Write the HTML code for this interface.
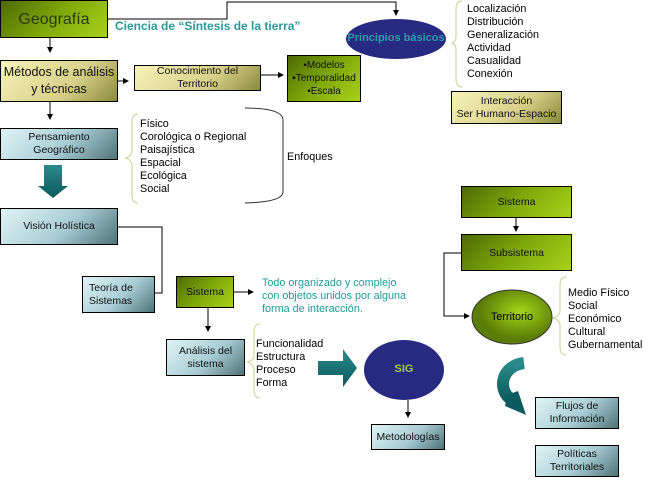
<!DOCTYPE html>
<html><head><meta charset="utf-8"><style>
body{margin:0;width:660px;height:498px;background:#fff;position:relative;overflow:hidden;font-family:"Liberation Sans",sans-serif;}
.b{position:absolute;box-sizing:border-box;border:1px solid #000;display:flex;align-items:center;justify-content:center;text-align:center;color:#111;font-size:10.5px;line-height:13px;}
.g{background:linear-gradient(135deg,#4d6a05,#7fa80a 50%,#a8d21a);}
.y{background:linear-gradient(135deg,#f6f3b8,#d8d08a 60%,#8a8a3a);}
.t{background:linear-gradient(135deg,#dff4f6,#a8ccd4 55%,#4e7478);}
.tx{position:absolute;font-size:10.8px;line-height:13px;color:#000;}
</style></head><body>
<svg width="660" height="498" style="position:absolute;left:0;top:0">
<defs>
<marker id="a" markerWidth="6" markerHeight="6" refX="5" refY="3" orient="auto"><path d="M0,0L6,3L0,6z" fill="#000"/></marker>
<linearGradient id="te" x1="0" x2="0" y1="0" y2="1"><stop offset="0" stop-color="#2a8a8a"/><stop offset="1" stop-color="#0b5a5f"/></linearGradient>
<radialGradient id="gr" cx="0.6" cy="0.4"><stop offset="0" stop-color="#a6d41a"/><stop offset="1" stop-color="#5b7d06"/></radialGradient>
</defs>
<g fill="none" stroke="#000" stroke-width="1">
<path d="M108,19H227V2H396V15" marker-end="url(#a)"/>
<path d="M50,38V52" marker-end="url(#a)"/>
<path d="M118,81H128" marker-end="url(#a)"/>
<path d="M261,75H283" marker-end="url(#a)"/>
<path d="M50,102V119" marker-end="url(#a)"/>
<path d="M118,227H162V293H150" marker-end="url(#a)"/>
<path d="M234,292H253" marker-end="url(#a)"/>
<path d="M208,308V331" marker-end="url(#a)"/>
<path d="M408,400V417" marker-end="url(#a)"/>
<path d="M516,218V231" marker-end="url(#a)"/>
<path d="M461,253H444V316H469" marker-end="url(#a)"/>
</g>
<g fill="none" stroke="#cfd9a0" stroke-width="1.2">
<path d="M462,1Q456,1 456,10V36Q456,42 452,43Q456,44 456,50V78Q456,87 462,87"/>
<path d="M138,114Q132,114 132,122V150Q132,156 126,158Q132,160 132,166V195Q132,203 138,203"/>
<path d="M260,324Q254,324 254,332V355Q254,361 247,362Q254,364 254,370V390Q254,398 260,398"/>
<path d="M566,277Q560,277 560,285V311Q560,316 553,318Q560,320 560,325V346Q560,355 566,355"/>
</g>
<path d="M245,108Q283,108 283,120V192Q283,202 245,203" fill="none" stroke="#333" stroke-width="1"/>
<ellipse cx="396" cy="39" rx="50" ry="20" fill="#262a80"/>
<ellipse cx="404" cy="370" rx="40" ry="30" fill="#262a80"/>
<ellipse cx="512" cy="317" rx="40" ry="27" fill="url(#gr)" stroke="#333"/>
<path d="M44,165H62V186H68L53,198L38,186H44Z" fill="url(#te)"/>
<path d="M318,361H343V349L357,368L343,387V375H318Z" fill="url(#te)"/>
<path d="M524,363C508,365 500,378 504,390C506,396 510,399 514,400" fill="none" stroke="url(#te)" stroke-width="12"/>
<path d="M507,395L518,391L526,415L505,406Z" fill="#0b5a5f"/>
</svg>
<div class="b g" style="left:0;top:0;width:108px;height:38px;font-size:16px;color:#2a3a10">Geografía</div>
<div class="tx" style="left:115px;top:20px;font-size:12px;font-weight:bold;color:#2a9a9a">Ciencia de “Síntesis de la tierra”</div>
<div class="tx" style="left:346px;top:32px;width:100px;text-align:center;font-size:11px;font-weight:bold;color:#2f9aa8">Principios básicos</div>
<div class="tx" style="left:467px;top:3px">Localización<br>Distribución<br>Generalización<br>Actividad<br>Casualidad<br>Conexión</div>
<div class="b y" style="left:451px;top:91px;width:111px;height:33px">Interacción<br>Ser Humano-Espacio</div>
<div class="b y" style="left:0;top:60px;width:118px;height:42px;font-size:12.5px;line-height:17px">Métodos de análisis<br>y técnicas</div>
<div class="b y" style="left:134px;top:65px;width:127px;height:26px">Conocimiento del<br>Territorio</div>
<div class="b g" style="left:287px;top:55px;width:74px;height:47px;font-size:10px">▪Modelos<br>▪Temporalidad<br>▪Escala</div>
<div class="b t" style="left:0;top:128px;width:118px;height:32px">Pensamiento<br>Geográfico</div>
<div class="tx" style="left:140px;top:118px">Físico<br>Corológica o Regional<br>Paisajística<br>Espacial<br>Ecológica<br>Social</div>
<div class="tx" style="left:287px;top:151px">Enfoques</div>
<div class="b t" style="left:0;top:208px;width:118px;height:37px">Visión Holística</div>
<div class="b t" style="left:82px;top:276px;width:73px;height:37px;justify-content:flex-start;text-align:left;padding-left:6px">Teoría de<br>Sistemas</div>
<div class="b g" style="left:176px;top:276px;width:58px;height:32px">Sistema</div>
<div class="tx" style="left:262px;top:277px;color:#1e9a9a">Todo organizado y complejo<br>con objetos unidos por alguna<br>forma de interacción.</div>
<div class="b t" style="left:166px;top:339px;width:79px;height:37px">Análisis del<br>sistema</div>
<div class="tx" style="left:256px;top:338px">Funcionalidad<br>Estructura<br>Proceso<br>Forma</div>
<div class="tx" style="left:364px;top:363px;width:80px;text-align:center;font-weight:bold;font-size:11px;color:#a8c83a">SIG</div>
<div class="b t" style="left:371px;top:424px;width:74px;height:26px">Metodologías</div>
<div class="b g" style="left:461px;top:186px;width:111px;height:32px">Sistema</div>
<div class="b g" style="left:461px;top:234px;width:111px;height:37px;align-items:flex-start;padding-top:12px">Subsistema</div>
<div class="tx" style="left:472px;top:311px;width:80px;text-align:center">Territorio</div>
<div class="tx" style="left:568px;top:287px">Medio Físico<br>Social<br>Económico<br>Cultural<br>Gubernamental</div>
<div class="b t" style="left:535px;top:397px;width:84px;height:32px">Flujos de<br>Información</div>
<div class="b t" style="left:535px;top:445px;width:84px;height:32px">Políticas<br>Territoriales</div>
</body></html>
